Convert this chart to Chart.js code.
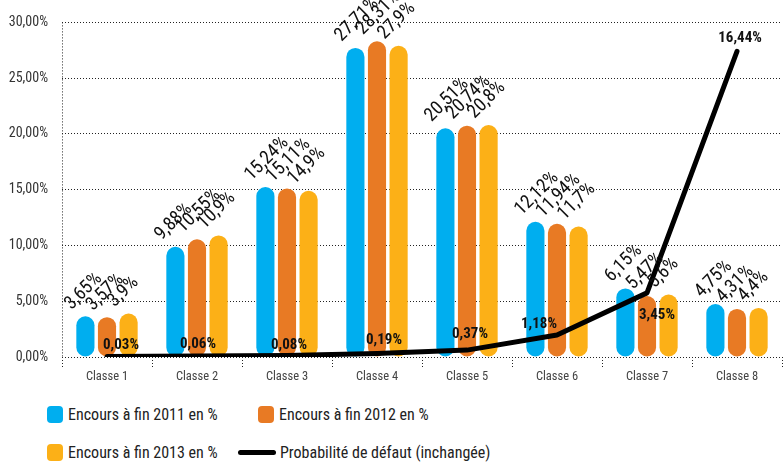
<!DOCTYPE html>
<html>
<head>
<meta charset="utf-8">
<script src="https://cdn.jsdelivr.net/npm/chart.js@4.4.1/dist/chart.umd.min.js"></script>
<style>
  body { margin: 0; background: #fff; }
  #wrap { position: relative; width: 784px; height: 464px; overflow: hidden; }
  #chartBox { position: absolute; left: 0; top: 0; width: 784px; height: 390px; }
  .leg { position: absolute; display: flex; align-items: center; height: 22px; white-space: nowrap;
         font: 16px Roboto, sans-serif; font-stretch: condensed; color: #222; }
  .leg .box { width: 16px; height: 17px; border-radius: 4px; margin-right: 5px; }
  .leg .ln { width: 38px; height: 5px; background: #000; border-radius: 3px; margin-right: 4px; }
</style>
</head>
<body>
<div id="wrap">
  <div id="chartBox"><canvas id="chart"></canvas></div>
  <div id="legend"></div>
</div>
<script>
const classes = ['Classe 1', 'Classe 2', 'Classe 3', 'Classe 4', 'Classe 5', 'Classe 6', 'Classe 7', 'Classe 8'];
const encours2011 = [3.65, 9.88, 15.24, 27.71, 20.51, 12.12, 6.15, 4.75];
const encours2012 = [3.57, 10.55, 15.11, 28.31, 20.74, 11.94, 5.47, 4.31];
const encours2013 = [3.9, 10.9, 14.9, 27.9, 20.8, 11.7, 5.6, 4.4];
const probaDefaut = [0.03, 0.06, 0.08, 0.19, 0.37, 1.18, 3.45, 16.44];
const seriesNames = ['Encours à fin 2011 en %', 'Encours à fin 2012 en %', 'Encours à fin 2013 en %', 'Probabilité de défaut (inchangée)'];
const yTicks = [0, 5, 10, 15, 20, 25, 30];

const colors = ['#00aeef', '#e87a24', '#fcb017'];
const FAMILY = 'Roboto, sans-serif';
// "condensed" passe dans la chaine de police du canvas (Roboto est variable en largeur)
const COND = 'condensed';

// decalage des etiquettes de la courbe (par rapport au point)
const lineLabelOffsets = [[14, -11], [1, -12], [2, -10], [7, -13], [3, -16], [-18, -11], [10, 22], [3, -13]];

const fmt = v => String(v).replace('.', ',') + '%';

// etiquettes des barres (tournees) et de la courbe
const labelsPlugin = {
    id: 'labels',
    afterDatasetsDraw(chart) {
        const ctx = chart.ctx;
        chart.data.datasets.forEach((ds, i) => {
            const meta = chart.getDatasetMeta(i);
            if (ds.type === 'line') {
                ctx.save();
                ctx.font = 'bold condensed 15px ' + FAMILY;
                ctx.fillStyle = '#111';
                ctx.textAlign = 'center';
                ctx.textBaseline = 'middle';
                meta.data.forEach((pt, j) => {
                    const off = lineLabelOffsets[j];
                    ctx.fillText(ds.data[j].toFixed(2).replace('.', ',') + '%', pt.x + off[0], pt.y + off[1]);
                });
                ctx.restore();
                return;
            }
            ctx.save();
            ctx.font = 'condensed 19px ' + FAMILY;
            ctx.fillStyle = '#111';
            ctx.textAlign = 'left';
            ctx.textBaseline = 'alphabetic';
            meta.data.forEach((bar, j) => {
                ctx.save();
                ctx.translate(bar.x - 14, bar.y - 6);
                ctx.rotate(-45 * Math.PI / 180);
                ctx.fillText(fmt(ds.data[j]), 0, 0);
                ctx.restore();
            });
            ctx.restore();
        });
    }
};

function initChart() {
    const ctx = document.getElementById('chart');
    const barData = [encours2011, encours2012, encours2013];

    const datasets = [{
        type: 'line',
        label: seriesNames[3],
        data: probaDefaut,
        borderColor: '#000',
        borderWidth: 5,
        pointRadius: 0,
        tension: 0,
        borderCapStyle: 'round',
        borderJoinStyle: 'round',
        yAxisID: 'yPd',
        order: 0
    }];
    barData.forEach((d, i) => {
        datasets.push({
            label: seriesNames[i],
            data: d,
            backgroundColor: colors[i],
            borderRadius: 9,
            borderSkipped: false,
            yAxisID: 'y',
            order: 1
        });
    });

    new Chart(ctx, {
        type: 'bar',
        data: { labels: classes, datasets: datasets },
        plugins: [labelsPlugin],
        options: {
            responsive: true,
            maintainAspectRatio: false,
            animation: false,
            datasets: { bar: { categoryPercentage: 0.72, barPercentage: 0.84 } },
            layout: { padding: { top: 18, right: 2, left: 0, bottom: 0 } },
            plugins: {
                legend: { display: false },
                tooltip: { enabled: false }
            },
            scales: {
                x: {
                    grid: {
                        offset: true,
                        drawOnChartArea: true,
                        color: c => c.index === 0 ? '#222' : 'rgba(0,0,0,0)',
                        tickColor: '#222',
                        tickLength: 10,
                        tickBorderDash: [1, 2]
                    },
                    border: { display: false, dash: [1, 2] },
                    ticks: { color: '#444', font: { family: FAMILY, size: 12.5, weight: COND }, padding: 2 },
                    afterFit: s => { s.height = 33; }
                },
                y: {
                    min: 0,
                    max: 30,
                    afterBuildTicks: s => { s.ticks = yTicks.map(v => ({ value: v })); },
                    ticks: {
                        callback: v => v.toFixed(2).replace('.', ',') + '%',
                        color: '#333',
                        font: { family: FAMILY, size: 14, weight: COND },
                        padding: 14
                    },
                    grid: { color: '#222', drawTicks: false, tickLength: 0 },
                    border: { display: false, dash: [1, 2] },
                    afterFit: s => { s.width = 62; }
                },
                yPd: {
                    display: false,
                    min: 0,
                    max: 18
                }
            }
        }
    });
}

function buildLegend() {
    // emplacement des entrees de la legende
    const slots = [[47, 403], [258, 403], [47, 441], [238, 441]];
    const box = document.getElementById('legend');
    seriesNames.forEach((name, i) => {
        const item = document.createElement('div');
        item.className = 'leg';
        item.style.left = slots[i][0] + 'px';
        item.style.top = slots[i][1] + 'px';
        const mark = document.createElement('span');
        if (i < 3) {
            mark.className = 'box';
            mark.style.background = colors[i];
        } else {
            mark.className = 'ln';
        }
        item.appendChild(mark);
        item.appendChild(document.createTextNode(name));
        box.appendChild(item);
    });
}

document.addEventListener('DOMContentLoaded', () => {
    initChart();
    buildLegend();
});
</script>
</body>
</html>
